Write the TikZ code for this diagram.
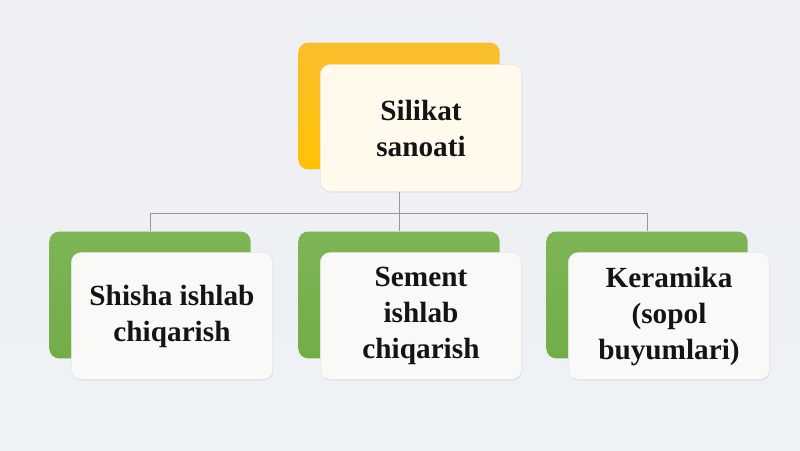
\documentclass[tikz,border=0pt]{standalone}
\usepackage{fontspec}
\setmainfont{Liberation Serif}
\usetikzlibrary{positioning, shadows}
\definecolor{bgtop}{RGB}{238,240,243}
\definecolor{bgmid}{RGB}{222,233,241}
\definecolor{bgbot}{RGB}{238,241,245}
\definecolor{sunorange}{RGB}{250,190,45}
\definecolor{sunyellow}{RGB}{255,194,5}
\definecolor{leafgreen}{RGB}{112,173,71}
\definecolor{leaflight}{RGB}{126,181,86}
\definecolor{creamfill}{RGB}{255,250,236}
\definecolor{palefill}{RGB}{249,250,247}
\definecolor{linkgray}{RGB}{150,152,154}
\definecolor{inkblack}{RGB}{20,20,20}

\tikzset{
  backbox/.style={rounded corners=7pt, minimum width=5.03cm, minimum height=3.17cm, inner sep=0pt},
  frontbox/.style={rounded corners=7pt, minimum width=5.03cm, minimum height=3.17cm, inner sep=2pt,
                   align=center, text=inkblack, font=\fontsize{20.8}{25.6}\selectfont\bfseries,
                   draw=white!82!gray, line width=0.4pt,
                   drop shadow={shadow xshift=0.5pt, shadow yshift=-0.8pt, opacity=0.15}},
  conn/.style={draw=linkgray, line width=0.6pt}
}

\begin{document}
\begin{tikzpicture}[x=0.025cm, y=-0.025cm]
    \useasboundingbox (0,0) rectangle (800,450);
    \shade[top color=bgtop, middle color=bgmid, bottom color=bgbot] (0,0) rectangle (800,450);

    % back boxes
    \node[backbox, top color=sunorange, bottom color=sunyellow] (silikatB) at (399,106) {};
    \node[backbox, top color=leaflight, bottom color=leafgreen] (shishaB) at (150,295) {};
    \node[backbox, top color=leaflight, bottom color=leafgreen] (sementB) at (399,295) {};
    \node[backbox, top color=leaflight, bottom color=leafgreen] (keramikaB) at (647,295) {};

    % connectors
    \coordinate (bus) at (399,213);
    \draw[conn] (silikatB.south) -- (bus);
    \draw[conn] (bus) -| (shishaB.north);
    \draw[conn] (bus) -- (sementB.north);
    \draw[conn] (bus) -| (keramikaB.north);

    % front boxes
    \node[frontbox, fill=creamfill, anchor=north west] (silikat)
        at ([shift={(22,22)}]silikatB.north west) {Silikat\\sanoati};
    \node[frontbox, fill=palefill, anchor=north west] (shisha)
        at ([shift={(22,21)}]shishaB.north west) {Shisha ishlab\\chiqarish};
    \node[frontbox, fill=palefill, anchor=north west] (sement)
        at ([shift={(22,21)}]sementB.north west) {Sement\\ishlab\\chiqarish};
    \node[frontbox, fill=palefill, anchor=north west] (keramika)
        at ([shift={(22,21)}]keramikaB.north west) {Keramika\\(sopol\\buyumlari)};
\end{tikzpicture}
\end{document}
